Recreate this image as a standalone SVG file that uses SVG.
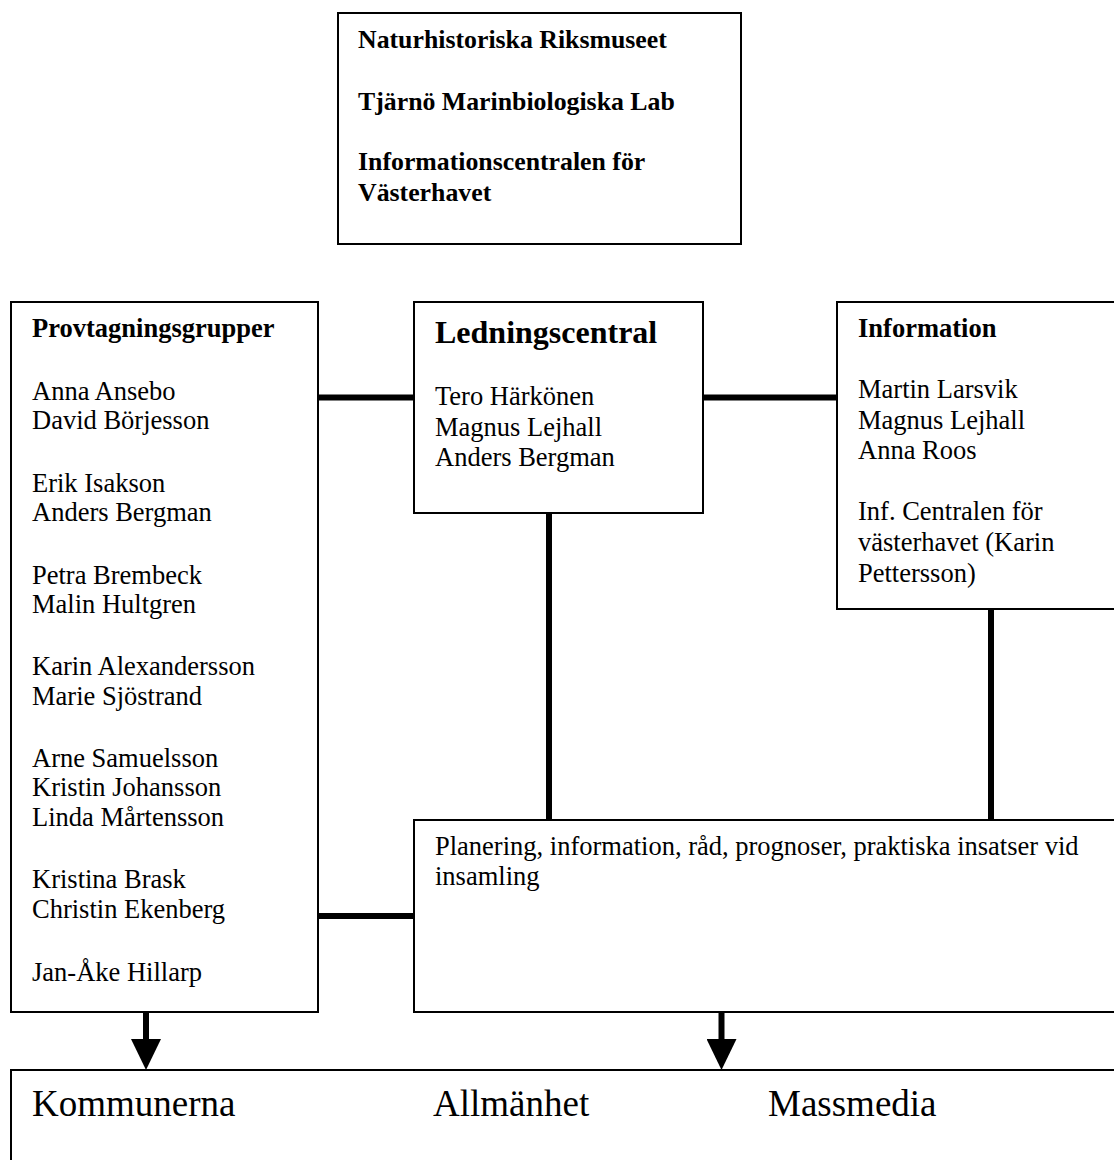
<svg xmlns="http://www.w3.org/2000/svg" width="1114" height="1160" viewBox="0 0 1114 1160">
  <style>
    .box { fill: #ffffff; stroke: #000000; stroke-width: 2; }
    .t { font-family: "Liberation Serif", "Times New Roman", serif; font-size: 26.5px; fill: #000000; }
    .b { font-weight: bold; }
    .tb { font-size: 25.8px; }
    .h { font-size: 32px; font-weight: bold; }
    .big { font-size: 37px; }
    .conn { stroke: #000000; stroke-width: 6; fill: none; stroke-linecap: butt; }
  </style>
  <defs>
    <marker id="arrow" markerUnits="userSpaceOnUse" markerWidth="31" markerHeight="30" viewBox="0 0 31 30" refX="0" refY="15" orient="auto">
      <path d="M0,0 L31,15 L0,30 Z" fill="#000000"/>
    </marker>
  </defs>
  <rect x="0" y="0" width="1114" height="1160" fill="#ffffff"/>

  <g id="connectors">
    <line class="conn" x1="318" y1="397.5" x2="414" y2="397.5"/>
    <line class="conn" x1="703" y1="397.5" x2="837" y2="397.5"/>
    <line class="conn" x1="549" y1="513" x2="549" y2="820"/>
    <line class="conn" x1="991" y1="609" x2="991" y2="820"/>
    <line class="conn" x1="318" y1="916" x2="414" y2="916"/>
    <line class="conn" x1="146" y1="1012" x2="146" y2="1039" marker-end="url(#arrow)"/>
    <line class="conn" x1="721.5" y1="1012" x2="721.5" y2="1039" marker-end="url(#arrow)"/>
  </g>

  <g id="top">
    <rect class="box" x="338" y="13" width="403" height="231"/>
    <text class="t b tb" x="358" y="48">Naturhistoriska Riksmuseet</text>
    <text class="t b tb" x="358" y="110">Tjärnö Marinbiologiska Lab</text>
    <text class="t b tb" x="358" y="170">Informationscentralen för</text>
    <text class="t b tb" x="358" y="201">Västerhavet</text>
  </g>

  <g id="provtagning">
    <rect class="box" x="11" y="302" width="307" height="710"/>
    <text class="t b" x="32" y="337">Provtagningsgrupper</text>
    <text class="t" x="32" y="399.5">Anna Ansebo</text>
    <text class="t" x="32" y="428.5">David Börjesson</text>
    <text class="t" x="32" y="491.5">Erik Isakson</text>
    <text class="t" x="32" y="521">Anders Bergman</text>
    <text class="t" x="32" y="583.5">Petra Brembeck</text>
    <text class="t" x="32" y="612.5">Malin Hultgren</text>
    <text class="t" x="32" y="675">Karin Alexandersson</text>
    <text class="t" x="32" y="704.5">Marie Sjöstrand</text>
    <text class="t" x="32" y="766.5">Arne Samuelsson</text>
    <text class="t" x="32" y="796">Kristin Johansson</text>
    <text class="t" x="32" y="825.5">Linda Mårtensson</text>
    <text class="t" x="32" y="888">Kristina Brask</text>
    <text class="t" x="32" y="917.5">Christin Ekenberg</text>
    <text class="t" x="32" y="981">Jan-Åke Hillarp</text>
  </g>

  <g id="ledningscentral">
    <rect class="box" x="414" y="302" width="289" height="211"/>
    <text class="t h" x="435" y="343">Ledningscentral</text>
    <text class="t" x="435" y="405">Tero Härkönen</text>
    <text class="t" x="435" y="435.5">Magnus Lejhall</text>
    <text class="t" x="435" y="466">Anders Bergman</text>
  </g>

  <g id="information">
    <rect class="box" x="837" y="302" width="290" height="307"/>
    <text class="t b" x="858" y="337">Information</text>
    <text class="t" x="858" y="398">Martin Larsvik</text>
    <text class="t" x="858" y="428.5">Magnus Lejhall</text>
    <text class="t" x="858" y="459">Anna Roos</text>
    <text class="t" x="858" y="520">Inf. Centralen för</text>
    <text class="t" x="858" y="551">västerhavet (Karin</text>
    <text class="t" x="858" y="581.5">Pettersson)</text>
  </g>

  <g id="planering">
    <rect class="box" x="414" y="820" width="713" height="192"/>
    <text class="t" x="435" y="855">Planering, information, råd, prognoser, praktiska insatser vid</text>
    <text class="t" x="435" y="885">insamling</text>
  </g>

  <g id="mottagare">
    <rect class="box" x="11" y="1070" width="1116" height="110"/>
    <text class="t big" x="32" y="1116">Kommunerna</text>
    <text class="t big" x="433" y="1116">Allmänhet</text>
    <text class="t big" x="768" y="1116">Massmedia</text>
  </g>
</svg>
